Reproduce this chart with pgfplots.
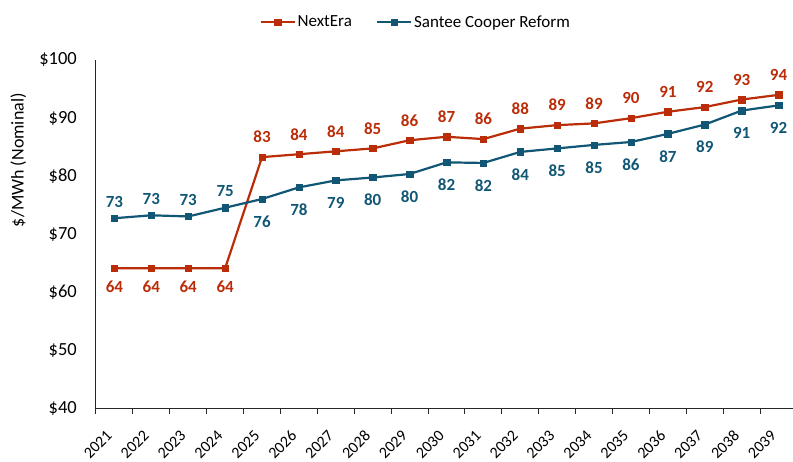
\documentclass[border=0pt]{standalone}
\usepackage{fontspec}
\setmainfont{Carlito}
\usepackage{pgfplots}
\usepackage{pgfplotstable}
\pgfplotsset{compat=1.18}
\definecolor{nextera}{RGB}{187,44,8}
\definecolor{santee}{RGB}{17,87,117}

\pgfplotstableread{
x y
0 64.2
1 64.2
2 64.2
3 64.2
4 83.3
5 83.8
6 84.3
7 84.8
8 86.2
9 86.8
10 86.4
11 88.2
12 88.8
13 89.1
14 90.0
15 91.1
16 91.9
17 93.2
18 94.0
}\nexteradata

\pgfplotstableread{
x y
0 72.8
1 73.3
2 73.1
3 74.6
4 76.1
5 78.1
6 79.3
7 79.8
8 80.4
9 82.4
10 82.3
11 84.2
12 84.8
13 85.4
14 85.9
15 87.3
16 88.9
17 91.3
18 92.2
}\santeedata

\pgfplotsset{
  vallabel/.style 2 args={draw=none, mark=none, forget plot,
    nodes near coords={\pgfmathprintnumber[fixed,precision=0,assume math mode=true]{\pgfplotspointmeta}},
    every node near coord/.append style={anchor=center, yshift=#2,
      font=\bfseries\fontsize{17}{18}\selectfont, text=#1}},
}

\begin{document}
\begin{tikzpicture}
\path[use as bounding box] (0pt,0pt) rectangle (793pt,462pt);
\begin{axis}[
  at={(96pt,53pt)}, anchor=south west,
  scale only axis, width=701pt, height=349pt,
  xmin=-0.5, xmax=18.5, ymin=40, ymax=100,
  clip=false,
  axis x line=bottom, axis y line=left,
  axis line style={-, line width=1pt, black!85},
  xtick={-0.5,0.5,...,18.5}, xticklabels={},
  tick align=outside, major tick length=5pt,
  xtick style={black!85, line width=1pt},
  extra x ticks={0,1,...,18},
  extra x tick labels={2021,2022,2023,2024,2025,2026,2027,2028,2029,2030,2031,2032,2033,2034,2035,2036,2037,2038,2039},
  extra x tick style={major tick length=0pt},
  xticklabel style={font=\fontsize{16}{18}\selectfont, xshift=-5pt, yshift=-24pt, rotate=45, anchor=east, inner sep=0pt},
  ytick={40,50,...,100},
  yticklabels={\$40,\$50,\$60,\$70,\$80,\$90,\$100},
  ytick style={draw=none},
  yticklabel style={font=\fontsize{18.5}{20}\selectfont, anchor=east, inner sep=0pt, xshift=-14pt},
  ylabel={\$/MWh (Nominal)},
  ylabel style={at={(axis description cs:-0.111,0.713)}, anchor=center, font=\fontsize{18}{20}\selectfont},
  legend columns=2,
  legend cell align=left,
  legend style={at={(0.456,1.109)}, anchor=center, draw=none, fill=none,
    font=\fontsize{17}{19}\selectfont,
    /tikz/every even column/.append style={column sep=22pt}},
  legend image code/.code={\draw[mark repeat=2,mark phase=2,#1] plot coordinates {(0pt,0pt) (17pt,0pt) (34pt,0pt)};},
]
\addplot[nextera, line width=2.2pt, mark=square*, mark size=3.2pt,
  mark options={solid, line width=0.4pt}]
  table[x=x, y=y]{\nexteradata};
\addlegendentry{NextEra}
\addplot[santee, line width=2.2pt, mark=square*, mark size=3.2pt,
  mark options={solid, line width=0.4pt}]
  table[x=x, y=y]{\santeedata};
\addlegendentry{Santee Cooper Reform}
% value labels
\addplot[vallabel={nextera}{-19pt}, skip coords between index={4}{19}] table[x=x, y=y]{\nexteradata};
\addplot[vallabel={nextera}{20pt}, skip coords between index={0}{4}] table[x=x, y=y]{\nexteradata};
\addplot[vallabel={santee}{16.5pt}, skip coords between index={4}{19}] table[x=x, y=y]{\santeedata};
\addplot[vallabel={santee}{-22.5pt}, skip coords between index={0}{4}] table[x=x, y=y]{\santeedata};
\end{axis}
\end{tikzpicture}
\end{document}
